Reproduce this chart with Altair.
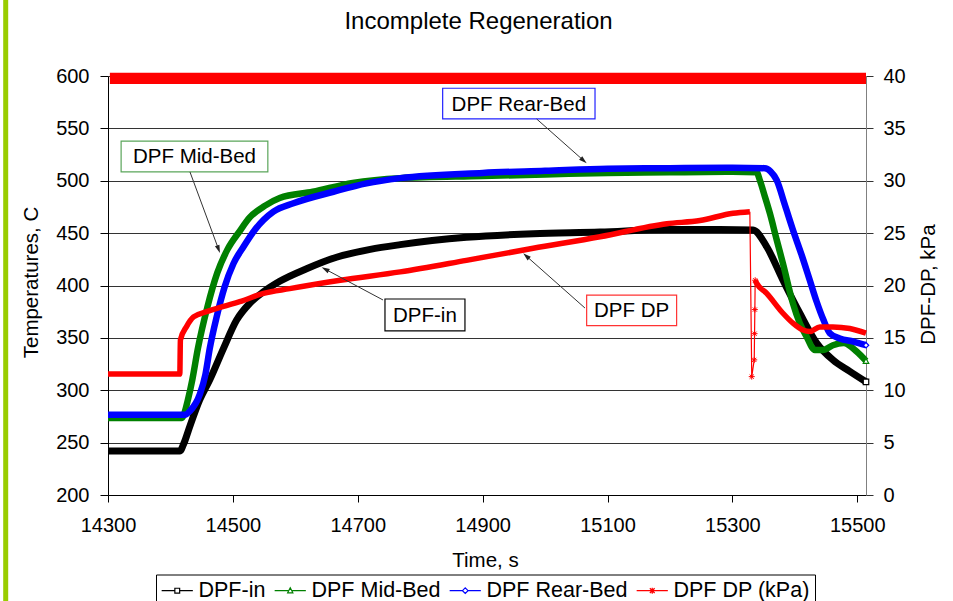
import math
import altair as alt
import pandas as pd

FONT = "Liberation Sans"

# ---------------- data ----------------
series_names = ["DPF-in", "DPF Mid-Bed", "DPF Rear-Bed", "DPF DP (kPa)"]
series_colors = ["#000000", "#008000", "#0000ff", "#ff0000"]

# DPF-in temperature, C
in_t = [14300, 14415, 14422, 14429, 14447, 14463, 14485, 14506, 14527, 14549, 14575,
        14618, 14666, 14720, 14768, 14874, 14981, 15088, 15194, 15280, 15333, 15355,
        15381, 15408, 15435, 15461, 15488, 15514]
in_T = [242, 242, 250, 262, 291, 310, 340, 367, 383, 394, 404,
        416, 427, 434.5, 439, 446, 449.5, 451, 453.5, 453.5, 453, 437,
        405, 373.5, 345, 329, 318, 308]

# DPF Mid-Bed temperature, C
mid_t = [14300, 14418, 14421, 14428, 14435, 14444, 14459, 14475, 14491, 14511, 14527,
         14551, 14575, 14628, 14692, 14768, 14900, 15000, 15100, 15200, 15300, 15339,
         15344, 15352, 15360, 15371, 15381, 15397, 15408, 15419, 15432, 15445, 15461,
         15478, 15499, 15514]
mid_T = [273.5, 273.5, 276, 291, 310, 340, 379, 412, 434, 452, 465,
         476, 483.5, 489.5, 498, 502.5, 504.5, 506, 507.5, 508, 508.5, 508,
         500.5, 485, 469, 443.5, 421, 383, 364, 351, 338.5, 338.5, 343,
         345, 337, 328]

# DPF Rear-Bed temperature, C
rear_t = [14300, 14423, 14431, 14447, 14456, 14463, 14474, 14487, 14501, 14517, 14535,
          14565, 14597, 14661, 14714, 14768, 14900, 15000, 15100, 15200, 15300, 15352,
          15361, 15371, 15384, 15397, 15411, 15424, 15435, 15446, 15456, 15472, 15494,
          15514]
rear_T = [276.5, 276.5, 280, 296, 315, 340, 370, 399, 421, 437, 453,
          470.5, 478.5, 489.5, 497.5, 502.5, 507.5, 509.5, 511.5, 512, 512.5, 512,
          509, 500.5, 477, 453, 429, 405, 384.5, 367, 354.5, 349.5, 346.5,
          343]

# DPF DP, kPa (rise, momentary drop, fall)
dp_rise_t = [14300, 14415, 14416, 14426, 14437, 14458, 14485, 14511, 14549, 14591,
             14672, 14768, 14874, 14981, 15088, 15195, 15248, 15301, 15328]
dp_rise_kpa = [11.55, 11.55, 14.8, 16.1, 17.0, 17.5, 18.0, 18.45, 19.25, 19.7,
               20.5, 21.3, 22.4, 23.55, 24.65, 25.9, 26.2, 26.9, 27.05]
dp_spike_t = [15328, 15331, 15335, 15335.5, 15336, 15336.5]
dp_spike_kpa = [27.05, 11.3, 12.9, 15.4, 17.7, 20.5]
dp_fall_t = [15336.5, 15339, 15355, 15381, 15397, 15413, 15424, 15440, 15461, 15488, 15514]
dp_fall_kpa = [20.5, 20.2, 19.25, 17.35, 16.4, 15.75, 15.6, 16.05, 16.05, 15.9, 15.45]

# saturated band along the top of the chart
band_t = [14303, 15514]
band_T = [597.8]

x_ticks = list(range(14300, 15501, 200))
temp_ticks = list(range(200, 601, 50))
dp_ticks = list(range(0, 41, 5))

# callouts (text box + arrow), in data units (time, temperature)
callouts = [
    dict(label="DPF Mid-Bed", col="#5aa55a", x1=14321, x2=14556, y1=508.4, y2=537.9,
         tx=14438.5, ty=523.2, ax0=14431.3, ay0=508.4, ax1=14479.3, ay1=431.0),
    dict(label="DPF Rear-Bed", col="#2222ff", x1=14836, x2=15080, y1=559.0, y2=588.3,
         tx=14958, ty=573.6, ax0=14986.5, ay0=559.0, ax1=15066.6, ay1=516.7),
    dict(label="DPF-in", col="#000000", x1=14743.6, x2=14871.7, y1=356.6, y2=387.1,
         tx=14807.6, ty=371.8, ax0=14740.4, ay0=386.2, ax1=14642.2, ay1=417.4),
    dict(label="DPF DP", col="#ff3333", x1=15066.6, x2=15210.7, y1=361.6, y2=390.9,
         tx=15138.6, ty=376.2, ax0=15063.9, ay0=378.5, ax1=14965.0, ay1=430.7),
]

# ---------------- layout ----------------
W, H = 758, 419
X_DOM = [14300, 15514]
T_DOM = [200, 600]
P_DOM = [0, 40]
kx = W / (X_DOM[1] - X_DOM[0])
ky = H / (T_DOM[1] - T_DOM[0])

# arrowheads: direction in screen space
for c in callouts:
    dx = (c["ax1"] - c["ax0"]) * kx
    dy = -(c["ay1"] - c["ay0"]) * ky
    L = math.hypot(dx, dy)
    ux, uy = dx / L, dy / L
    c["ang"] = math.degrees(math.atan2(dx, -dy)) % 360
    back = 4.0
    c["hx"] = c["ax1"] - back * ux / kx
    c["hy"] = c["ay1"] + back * uy / ky
cdf = pd.DataFrame(callouts)

xscale = alt.Scale(domain=X_DOM, nice=False, zero=False)
tscale = alt.Scale(domain=T_DOM, nice=False, zero=False)
pscale = alt.Scale(domain=P_DOM, nice=False, zero=False)

xaxis = alt.Axis(values=x_ticks, format="d", title="Time, s", grid=False,
                 labelFontSize=20, labelColor="black", labelFont=FONT,
                 tickSize=7, tickColor="black", domainColor="black", labelPadding=13,
                 titleFontSize=20.5, titleFontWeight="normal", titleColor="black",
                 titleFont=FONT, titleX=377, titleY=71, titleBaseline="alphabetic",
                 labelFlush=False)
taxis = alt.Axis(orient="left", values=temp_ticks, title="Temperatures, C",
                 grid=True, gridColor="#333333", gridWidth=1,
                 labelFontSize=20, labelColor="black", labelFont=FONT,
                 tickSize=8, tickColor="black", domainColor="black", labelPadding=11,
                 titleFontSize=20.5, titleFontWeight="normal", titleColor="black",
                 titleFont=FONT, titleX=-71, titleY=206, titleAngle=270,
                 titleBaseline="alphabetic", labelFlush=False)
paxis = alt.Axis(orient="right", values=dp_ticks, title="DPF-DP, kPa", grid=False,
                 labelFontSize=20, labelColor="black", labelFont=FONT,
                 tickSize=7, tickColor="#333333", domainColor="#808080", labelPadding=10,
                 titleFontSize=20.5, titleFontWeight="normal", titleColor="black",
                 titleFont=FONT, titleX=68, titleY=208, titleAngle=270,
                 titleBaseline="alphabetic", labelFlush=False)


def X(f="t"):
    return alt.X(f"{f}:Q", scale=xscale, axis=xaxis)


def TY(f="T"):
    return alt.Y(f"{f}:Q", scale=tscale, axis=taxis)


def PY(f="p"):
    return alt.Y(f"{f}:Q", scale=pscale, axis=paxis)


def temp_line(ts, vs, color, width):
    df = pd.DataFrame({"t": ts, "T": vs})
    return alt.Chart(df).mark_line(color=color, strokeWidth=width, interpolate="monotone",
                                   strokeCap="butt").encode(x=X(), y=TY())


def end_marker(ts, vs, color, shape):
    df = pd.DataFrame({"t": ts[-1:], "T": vs[-1:]})
    return alt.Chart(df).mark_point(shape=shape, size=30, fill="white", fillOpacity=1,
                                    stroke=color, strokeWidth=1.2, opacity=1).encode(x=X(), y=TY())


black = temp_line(in_t, in_T, series_colors[0], 7)
green = temp_line(mid_t, mid_T, series_colors[1], 6.5)
blue = temp_line(rear_t, rear_T, series_colors[2], 6.5)
black_end = end_marker(in_t, in_T, series_colors[0], "square")
green_end = end_marker(mid_t, mid_T, series_colors[1], "triangle-up")
blue_end = end_marker(rear_t, rear_T, series_colors[2], "diamond")

band = alt.Chart(pd.DataFrame({"t": [band_t[0]], "t2": [band_t[1]], "T": band_T})).mark_rule(
    color="#ff0000", strokeWidth=11.3, strokeCap="butt"
).encode(x=X(), x2="t2:Q", y=TY())

# legend (symbols = line with marker)
shape_paths = [
    "M-3.9,0H-0.6M0.6,0H3.9M-0.6,-0.6H0.6V0.6H-0.6Z",
    "M-3.9,0H-0.5M0.5,0H3.9M0,-0.7L0.65,0.55H-0.65Z",
    "M-3.9,0H-0.7M0.7,0H3.9M0,-0.7L0.7,0L0,0.7L-0.7,0Z",
    "M-3.9,0H3.9M-0.6,-0.6L0.6,0.6M-0.6,0.6L0.6,-0.6M0,-0.75V0.75",
]
leg = alt.Legend(orient="none", legendX=48, legendY=498.5, direction="horizontal",
                 columns=4, title=None, labelFont=FONT, labelFontSize=21.5,
                 labelColor="black", symbolSize=64, symbolStrokeWidth=1.2,
                 symbolOffset=5.5, labelOffset=10.5, columnPadding=6, padding=5,
                 strokeColor="black", fillColor="white", symbolOpacity=1)
legend_layer = alt.Chart(pd.DataFrame({"series": series_names})).mark_point(
    filled=False, opacity=0, size=64, strokeWidth=1.2
).encode(
    color=alt.Color("series:N", scale=alt.Scale(domain=series_names, range=series_colors), legend=leg),
    shape=alt.Shape("series:N", scale=alt.Scale(domain=series_names, range=shape_paths), legend=leg),
)

temp_group = alt.layer(black, green, blue, black_end, green_end, blue_end, band, legend_layer)

# DP series on the right axis
rise = alt.Chart(pd.DataFrame({"t": dp_rise_t, "p": dp_rise_kpa})).mark_line(
    color="#ff0000", strokeWidth=5.5, interpolate="monotone", strokeCap="butt"
).encode(x=X(), y=PY())
spike = alt.Chart(pd.DataFrame({"t": dp_spike_t, "p": dp_spike_kpa})).mark_line(
    color="#ff0000", strokeWidth=1.2
).encode(x=X(), y=PY())
spike_pts = alt.Chart(pd.DataFrame({"t": dp_spike_t[1:], "p": dp_spike_kpa[1:]})).mark_point(
    shape="M-1,0H1M-0.7,-0.7L0.7,0.7M-0.7,0.7L0.7,-0.7M0,-1V1", size=36,
    color="#ff0000", strokeWidth=1, filled=False, opacity=1
).encode(x=X(), y=PY())
fall = alt.Chart(pd.DataFrame({"t": dp_fall_t, "p": dp_fall_kpa})).mark_line(
    color="#ff0000", strokeWidth=5.5, interpolate="monotone", strokeCap="butt"
).encode(x=X(), y=PY())

dp_group = alt.layer(rise, spike, spike_pts, fall)

# callouts
anno_y = lambda f: alt.Y(f"{f}:Q", scale=tscale, axis=None)
boxes = alt.Chart(cdf).mark_rect(fill="white", strokeWidth=1.2).encode(
    x=X("x1"), x2="x2:Q", y=anno_y("y1"), y2="y2:Q",
    stroke=alt.Stroke("col:N", scale=None),
)
texts = alt.Chart(cdf).mark_text(font=FONT, fontSize=20.5, color="black",
                                 baseline="middle", align="center", dy=1).encode(
    x=X("tx"), y=anno_y("ty"), text="label:N")
lines = alt.Chart(cdf).mark_rule(color="#333333", strokeWidth=1).encode(
    x=X("ax0"), y=anno_y("ay0"), x2="hx:Q", y2="hy:Q")
heads = alt.Chart(cdf).mark_point(shape="M0,-1L0.6,1L-0.6,1Z", size=64, filled=True,
                                  color="#222222", opacity=1).encode(
    x=X("hx"), y=anno_y("hy"), angle=alt.Angle("ang:Q", scale=None))

title_txt = alt.Chart(pd.DataFrame({"title": ["Incomplete Regeneration"]})).mark_text(
    font=FONT, fontSize=24, color="black", align="center", baseline="alphabetic"
).encode(x=alt.value(370.5), y=alt.value(-46.7), text="title:N")

side_bar = alt.Chart(pd.DataFrame({"a": [0]})).mark_rule(color="#99cc00", strokeWidth=5).encode(
    x=alt.value(-102.3), y=alt.value(-80), y2=alt.value(530))

anno_group = alt.layer(boxes, texts, lines, heads, title_txt, side_bar)

chart = alt.layer(temp_group, dp_group, anno_group).resolve_scale(
    y="independent"
).properties(
    width=W, height=H, autosize="none",
    padding={"left": 108, "top": 76, "right": 87, "bottom": 106},
    background="white",
).configure_view(stroke=None)

chart.save("out.html", embed_options={"renderer": "svg", "actions": False})
